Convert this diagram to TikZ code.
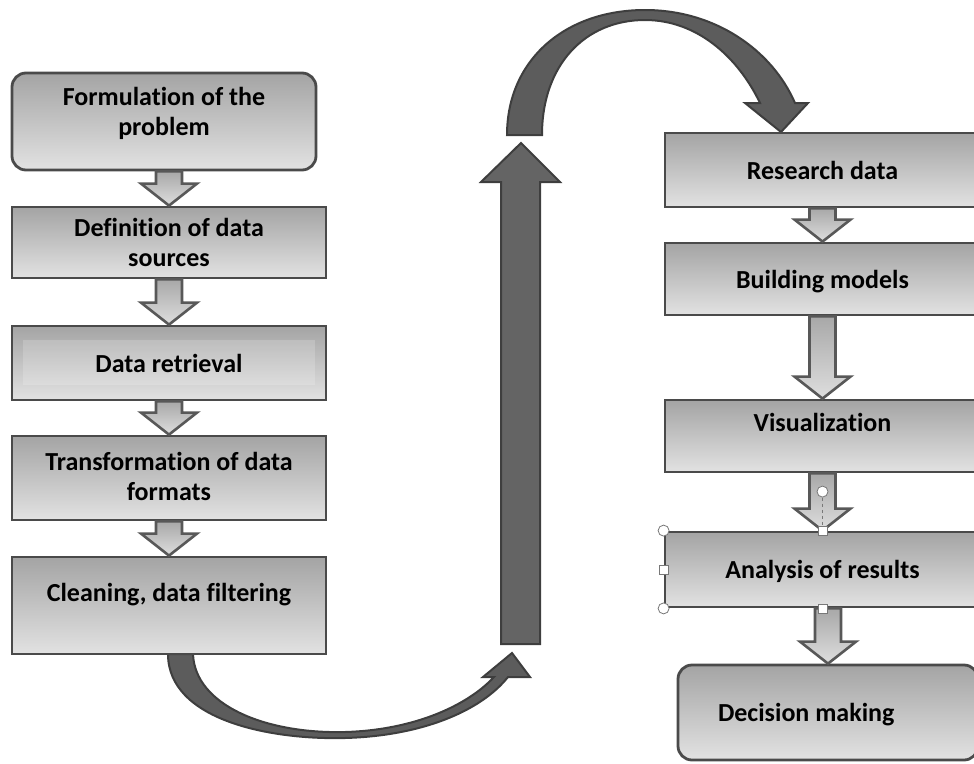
\documentclass[tikz,border=0pt]{standalone}
\usepackage{fontspec}
\setmainfont{Carlito}[Ligatures=NoCommon]
\usepackage{tikz}
\usetikzlibrary{shapes,arrows,positioning,calc}
\definecolor{boxtop}{RGB}{164,164,164}
\definecolor{boxbot}{RGB}{226,226,226}
\definecolor{boxline}{RGB}{74,74,74}
\definecolor{flowtop}{RGB}{168,168,168}
\definecolor{flowbot}{RGB}{222,222,222}
\definecolor{flowline}{RGB}{88,88,88}
\definecolor{bigfill}{RGB}{92,92,92}
\definecolor{bigline}{RGB}{62,62,62}
\definecolor{handleline}{RGB}{120,120,120}
\tikzstyle{block} = [rectangle, draw=boxline, line width=2.8pt, top color=boxtop, bottom color=boxbot, minimum width=314pt, inner sep=0pt, align=center, text depth=0pt, font=\bfseries\fontsize{26}{30}\selectfont]
\tikzstyle{rblock} = [block, rounded corners=14pt]
\tikzstyle{flow} = [draw=flowline, line width=2.6pt, top color=flowtop, bottom color=flowbot]
\tikzstyle{bigarrow} = [draw=bigline, line width=2pt, fill=bigfill]
\tikzstyle{handle} = [draw=handleline, fill=white, line width=0.8pt]
% hollow block arrow from the bottom of one box to the top of the next
\newcommand{\flowarrow}[2]{%
  \path[flow] let \p1=(#1.south), \p2=(#2.north) in
    ({\x2-13pt},\y1) -- ({\x2+13pt},\y1) -- ({\x2+13pt},{\y2+22pt}) -- ({\x2+28pt},{\y2+22pt})
    -- (\x2,\y2) -- ({\x2-28pt},{\y2+22pt}) -- ({\x2-13pt},{\y2+22pt}) -- cycle;}

\begin{document}
\begin{tikzpicture}[x=1pt,y=-1pt]
  \useasboundingbox (0,0) rectangle (974,763);

  % big connecting arrows
  \path[bigarrow] (168,654) .. controls (168,720) and (270,740) .. (345,738)
    .. controls (420,736) and (480,712) .. (508,677) -- (530,677) -- (512,653) -- (483,677) -- (494,677)
    .. controls (468,705) and (415,730) .. (345,732) .. controls (265,734) and (195,705) .. (193,654) -- cycle;
  \path[bigarrow, fill=bigfill!95!white] (501,644) -- (540,644) -- (540,182) -- (560,182) -- (521,143)
    -- (481,182) -- (501,182) -- cycle;
  \path[bigarrow] (507,135) .. controls (507,60) and (565,10) .. (645,10)
    .. controls (715,10) and (772,50) .. (795,103) -- (808,103) -- (781,132) -- (745,103) -- (760,103)
    .. controls (738,57) and (697,20) .. (645,20) .. controls (585,20) and (542,65) .. (542,135) -- cycle;

  % left column
  \node[rblock, minimum width=304pt, minimum height=97pt, text depth=20pt] (formul) at (164,121.5) {Formulation of the\\problem};
  \node[block, below of=formul, node distance=121pt, xshift=5pt, minimum height=71pt] (sources) {Definition of data\\sources};
  \node[block, below of=sources, node distance=120.5pt, minimum height=74pt,
    path picture={\fill[white, opacity=0.18] ([xshift=11pt,yshift=-14pt]path picture bounding box.north west)
      rectangle ([xshift=-11pt,yshift=15pt]path picture bounding box.south east);}] (retrieval) {Data retrieval};
  \node[block, below of=retrieval, node distance=115pt, minimum height=84pt, text depth=4pt] (transform) {Transformation of data\\formats};
  \node[block, below of=transform, node distance=127.5pt, minimum height=97pt, text depth=26pt] (cleaning) {Cleaning, data filtering};

  % right column
  \node[block, minimum width=315pt, minimum height=74pt] (resdata) at (822.5,170) {Research data};
  \node[block, below of=resdata, node distance=109pt, minimum width=315pt, minimum height=72pt] (models) {Building models};
  \node[block, below of=models, node distance=157pt, minimum width=315pt, minimum height=72pt, text depth=27pt] (visual) {Visualization};
  \node[block, below of=visual, node distance=133.5pt, minimum width=315pt, minimum height=75pt] (analysis) {Analysis of results};
  \node[rblock, below of=analysis, node distance=143pt, xshift=5.5pt, minimum width=300pt, minimum height=95pt,
    text width=220pt, align=flush left] (decision) {Decision making};

  \flowarrow{formul}{sources}
  \flowarrow{sources}{retrieval}
  \flowarrow{retrieval}{transform}
  \flowarrow{transform}{cleaning}
  \flowarrow{resdata}{models}
  \flowarrow{models}{visual}
  \flowarrow{visual}{analysis}
  \flowarrow{analysis}{decision}

  % selection handles
  \coordinate (rot) at ([yshift=39pt]analysis.north);
  \draw[handleline, dashed, line width=0.8pt] (rot) -- (analysis.north);
  \draw[handle] (rot) circle (5.5pt);
  \draw[handle] (analysis.north west) circle (5.5pt);
  \draw[handle] (analysis.south west) circle (5.5pt);
  \draw[handle] ([xshift=-4.5pt,yshift=-4.5pt]analysis.west) rectangle ++(9pt,9pt);
  \draw[handle] ([xshift=-4.5pt,yshift=-4.5pt]analysis.north) rectangle ++(9pt,9pt);
  \draw[handle] ([xshift=-4.5pt,yshift=-4.5pt]analysis.south) rectangle ++(9pt,9pt);
\end{tikzpicture}
\end{document}
